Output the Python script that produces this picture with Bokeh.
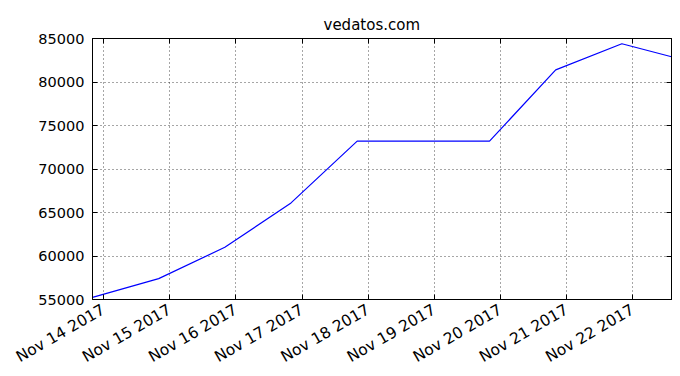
import pandas as pd
from math import pi
from bokeh.plotting import figure
from bokeh.models import Range1d, FixedTicker, DatetimeTickFormatter, DatetimeAxis, LinearAxis
from bokeh.embed import file_html
from bokeh.resources import INLINE

dates = ["2017-11-13 20:00", "2017-11-14 20:00", "2017-11-15 20:00", "2017-11-16 20:00",
         "2017-11-17 20:00", "2017-11-18 20:00", "2017-11-19 20:00", "2017-11-20 20:00",
         "2017-11-21 20:00", "2017-11-22 14:00"]
values = [55250, 57400, 61000, 66100, 73200, 73200, 73200, 81400, 84400, 82900]
x_tick_dates = ["2017-11-14", "2017-11-15", "2017-11-16", "2017-11-17", "2017-11-18",
                "2017-11-19", "2017-11-20", "2017-11-21", "2017-11-22"]
y_ticks = [55000, 60000, 65000, 70000, 75000, 80000, 85000]
title_text = "vedatos.com"

xs = pd.to_datetime(dates)
x_ticks_ms = [pd.Timestamp(d).value // 10**6 for d in x_tick_dates]

FONT = "DejaVu Sans"

p = figure(width=680, height=376, x_axis_type="datetime", output_backend="svg",
           toolbar_location=None, min_border_left=92, min_border_right=9,
           min_border_top=38, min_border_bottom=77,
           x_range=Range1d(xs[0], xs[-1]), y_range=Range1d(55000, 85000))

p.title.text = title_text
p.title.align = "left"
p.title.offset = 231
p.title.text_font = FONT
p.title.text_font_size = "15px"
p.title.text_font_style = "normal"
p.title.text_color = "black"

p.line(xs, values, line_color="#0000ff", line_width=1.2)

fmt = DatetimeTickFormatter(days="%b %d %Y", months="%b %d %Y", hours="%b %d %Y",
                            minutes="%b %d %Y", years="%b %d %Y")

p.xaxis.ticker = FixedTicker(ticks=x_ticks_ms)
p.xaxis.formatter = fmt
p.xaxis.major_label_orientation = pi / 6
p.yaxis.ticker = FixedTicker(ticks=y_ticks)

for ax in [p.xaxis[0], p.yaxis[0]]:
    ax.major_label_text_font = FONT
    ax.major_label_text_color = "black"
    ax.major_tick_in = 5
    ax.major_tick_out = 0
    ax.minor_tick_line_color = None
    ax.axis_line_color = "black"
    ax.major_tick_line_color = "black"
p.xaxis.major_label_text_font_size = "15.5px"
p.yaxis.major_label_text_font_size = "14.5px"
p.yaxis.major_label_standoff = 8
p.xaxis.major_label_standoff = 9

top = DatetimeAxis(ticker=FixedTicker(ticks=x_ticks_ms), major_label_text_font_size="1px",
                   major_label_text_color=None,
                   major_tick_in=5, major_tick_out=0, minor_tick_line_color=None,
                   axis_line_color="black", major_tick_line_color="black", major_label_standoff=0)
right = LinearAxis(ticker=FixedTicker(ticks=y_ticks), major_label_text_font_size="1px",
                   major_label_text_color=None,
                   major_tick_in=5, major_tick_out=0, minor_tick_line_color=None,
                   axis_line_color="black", major_tick_line_color="black", major_label_standoff=0)
p.add_layout(top, "above")
p.add_layout(right, "right")

p.outline_line_color = "black"
p.outline_line_width = 1

for g in [p.xgrid[0], p.ygrid[0]]:
    g.grid_line_color = "black"
    g.grid_line_dash = "1 3"
    g.grid_line_alpha = 0.7
    g.grid_line_width = 1

p.background_fill_color = "white"
p.border_fill_color = "white"

open("out.html", "w").write(file_html(p, INLINE))
